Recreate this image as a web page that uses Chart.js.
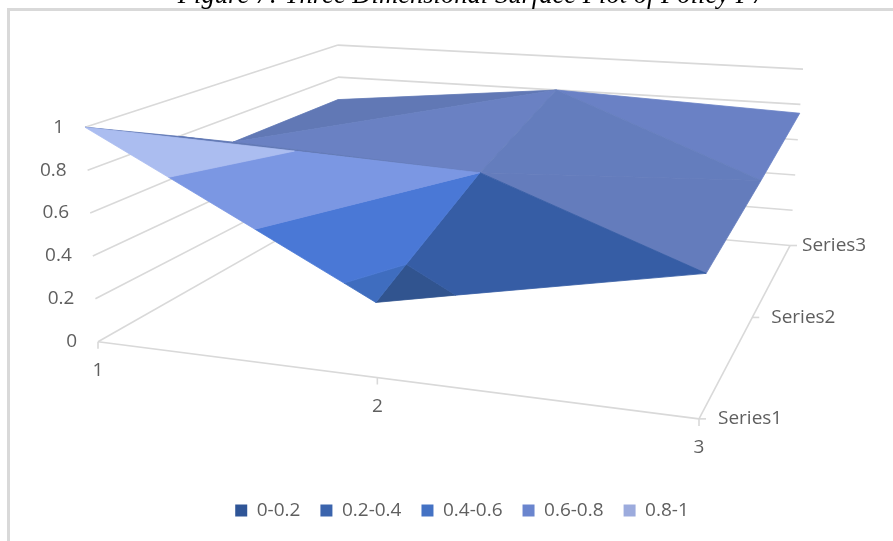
<!DOCTYPE html>
<html>
<head>
<meta charset="utf-8">
<title>Figure 7</title>
<script src="https://cdn.jsdelivr.net/npm/chart.js@4"></script>
<style>
    html, body { margin:0; padding:0; background:#fff; }
    #marco { position:absolute; left:7px; top:8px; width:886px; height:533px; border-left:3px solid #d9d9d9; border-top:3px solid #d9d9d9; box-sizing:border-box; }
    #lienzo { position:absolute; left:0; top:0; width:893px; height:541px; }
</style>
</head>
<body>
<div id="marco"></div>
<div id="lienzo"><canvas id="grafica" width="893" height="541"></canvas></div>
<script>
var titulo = 'Figure 7: Three Dimensional Surface Plot of Policy P7';
var xLabels = ['1', '2', '3'];
var seriesNames = ['Series1', 'Series2', 'Series3'];
var zTicks = [0, 0.2, 0.4, 0.6, 0.8, 1];
var bandNames = ['0-0.2', '0.2-0.4', '0.4-0.6', '0.6-0.8', '0.8-1'];
var bandEdges = [0, 0.2, 0.4, 0.6, 0.8, 1];
var series1 = [1, 0.33, 0.6];
var series2 = [0.66, 0.6, 0.67];
var series3 = [0.66, 0.8, 0.75];

var legendColors = ['#2F5597', '#3B64AD', '#4472C4', '#6A85CE', '#9CABDD'];
var GRID = '#d9d9d9';
var TEXT = '#5f5f5f';
var FONT = '"Open Sans"';
var PLOT_LEFT = 31;
var PLOT_BOTTOM = 480;

// esquinas de la caja 3D en pantalla: (1,S1) (3,S1) (3,S3) (1,S3)
var floorBox = [[98, 341], [699, 418], [790, 245], [338, 205]];
var topBox = [[85, 127], [711, 176], [803, 69], [338, 45]];

var valores = [series1, series2, series3];

function homografia(q) {
    var dx1 = q[1][0] - q[2][0], dx2 = q[3][0] - q[2][0], dx3 = q[0][0] - q[1][0] + q[2][0] - q[3][0];
    var dy1 = q[1][1] - q[2][1], dy2 = q[3][1] - q[2][1], dy3 = q[0][1] - q[1][1] + q[2][1] - q[3][1];
    var den = dx1 * dy2 - dx2 * dy1;
    var g = (dx3 * dy2 - dx2 * dy3) / den;
    var h = (dx1 * dy3 - dx3 * dy1) / den;
    var a = q[1][0] - q[0][0] + g * q[1][0], b = q[3][0] - q[0][0] + h * q[3][0], c = q[0][0];
    var d = q[1][1] - q[0][1] + g * q[1][1], e = q[3][1] - q[0][1] + h * q[3][1], f = q[0][1];
    return function (u, v) {
        var w = g * u + h * v + 1;
        return [(a * u + b * v + c) / w, (d * u + e * v + f) / w];
    };
}
var enPiso = homografia(floorBox);
var enTecho = homografia(topBox);

// col y fila van de 0 a 2, z de 0 a 1
function proyectar(col, fila, z) {
    var p = enPiso(col / 2, fila / 2);
    var t = enTecho(col / 2, fila / 2);
    return { x: p[0] + (t[0] - p[0]) * z, y: p[1] + (t[1] - p[1]) * z };
}

// caras de la superficie, de atras hacia adelante. Cada una con su tono por banda
function tono(c) { return [c, c, c, c, c]; }
var caras = [
    { v: [[0, 1], [1, 2], [0, 2]], c: tono('#6178B5') },
    { v: [[0, 1], [1, 1], [1, 2]], c: tono('#6A81C3') },
    { v: [[1, 2], [2, 1], [2, 2]], c: tono('#6A81C5') },
    { v: [[1, 1], [2, 1], [1, 2]], c: tono('#647DBD') },
    { v: [[1, 1], [2, 0], [2, 1]], c: tono('#647CBC') },
    { v: [[1, 0], [2, 0], [1, 1]], c: ['#31548F', '#31548F', '#365DA5', '#647CBC', '#647CBC'] },
    { v: [[0, 0], [1, 1], [0, 1]], c: tono('#6178B5') },
    { v: [[0, 0], [1, 0], [1, 1]], c: ['#3F6DBF', '#3F6DBF', '#4A78D6', '#7B97E3', '#ABBDF0'] }
];

function recortar(poli, limite, arriba) {
    var sale = [];
    for (var i = 0; i < poli.length; i++) {
        var a = poli[i], b = poli[(i + 1) % poli.length];
        var da = arriba ? a[2] - limite : limite - a[2];
        var db = arriba ? b[2] - limite : limite - b[2];
        if (da >= 0) sale.push(a);
        if ((da > 0 && db < 0) || (da < 0 && db > 0)) {
            var t = da / (da - db);
            sale.push([a[0] + (b[0] - a[0]) * t, a[1] + (b[1] - a[1]) * t, limite]);
        }
    }
    return sale;
}

function area(pts) {
    var s = 0;
    for (var i = 0; i < pts.length; i++) {
        var j = (i + 1) % pts.length;
        s += pts[i].x * pts[j].y - pts[j].x * pts[i].y;
    }
    return Math.abs(s) / 2;
}

function linea(puntos, ancho) {
    return { data: puntos, showLine: true, fill: false, borderColor: GRID, borderWidth: ancho || 1.6, pointRadius: 0, tension: 0 };
}

var capas = [];
// paredes
zTicks.forEach(function (z) {
    capas.push(linea([proyectar(0, 0, z), proyectar(0, 2, z)]));
    capas.push(linea([proyectar(0, 2, z), proyectar(2, 2, z)]));
});
// piso y marcas de los ejes
capas.push(linea([proyectar(0, 0, 0), proyectar(2, 0, 0)]));
capas.push(linea([proyectar(2, 0, 0), proyectar(2, 2, 0)]));
xLabels.forEach(function (n, i) {
    var p = proyectar(i, 0, 0);
    capas.push(linea([p, { x: p.x, y: p.y + 7 }]));
});
seriesNames.forEach(function (n, i) {
    var p = proyectar(2, i, 0);
    capas.push(linea([p, { x: p.x + 7, y: p.y }]));
});
// superficie por bandas
caras.forEach(function (cara) {
    var base = cara.v.map(function (k) { return [k[0], k[1], valores[k[1]][k[0]]]; });
    bandNames.forEach(function (nombre, b) {
        var poli = recortar(recortar(base, bandEdges[b], true), bandEdges[b + 1], false);
        if (poli.length < 3) return;
        var pts = poli.map(function (k) { return proyectar(k[0], k[1], k[2]); });
        if (area(pts) < 0.5) return;
        pts.push(pts[0]);
        capas.push({
            data: pts, showLine: true, fill: 'shape', backgroundColor: cara.c[b],
            borderColor: cara.c[b], borderWidth: 0.8, pointRadius: 0, tension: 0
        });
    });
});
capas.reverse(); // chart.js pinta el primero encima

var seriesDx = [19, 19, 12];
var textos = {
    id: 'textos',
    afterDraw: function (chart) {
        var ctx = chart.ctx, sx = chart.scales.x, sy = chart.scales.y;
        ctx.save();
        ctx.fillStyle = TEXT;
        ctx.textBaseline = 'middle';
        ctx.font = '19px ' + FONT;
        ctx.textAlign = 'right';
        zTicks.forEach(function (z) {
            var p = proyectar(0, 0, z);
            ctx.fillText(String(z), sx.getPixelForValue(p.x) - 21, sy.getPixelForValue(p.y));
        });
        ctx.textAlign = 'center';
        xLabels.forEach(function (n, i) {
            var p = proyectar(i, 0, 0);
            ctx.fillText(n, sx.getPixelForValue(p.x), sy.getPixelForValue(p.y) + 29);
        });
        ctx.textAlign = 'left';
        seriesNames.forEach(function (n, i) {
            var p = proyectar(2, i, 0);
            ctx.fillText(n, sx.getPixelForValue(p.x) + seriesDx[i], sy.getPixelForValue(p.y));
        });
        ctx.fillStyle = '#000';
        ctx.textBaseline = 'alphabetic';
        ctx.textAlign = 'center';
        ctx.font = 'italic 26.6px "Liberation Serif"';
        ctx.fillText(titulo, 471.5, 3);
        ctx.restore();
    }
};

new Chart(document.getElementById('grafica').getContext('2d'), {
    type: 'scatter',
    data: { datasets: capas },
    plugins: [textos],
    options: {
        responsive: false,
        animation: false,
        events: [],
        layout: { padding: { left: PLOT_LEFT, bottom: 11 } },
        scales: {
            x: { type: 'linear', min: PLOT_LEFT, max: 893, display: false },
            y: { type: 'linear', min: 0, max: PLOT_BOTTOM, reverse: true, display: false }
        },
        plugins: {
            tooltip: { enabled: false },
            title: { display: false },
            legend: {
                position: 'bottom',
                labels: {
                    boxWidth: 12, boxHeight: 12, padding: 20, color: TEXT,
                    font: { family: FONT, size: 19 },
                    generateLabels: function () {
                        return bandNames.map(function (n, i) {
                            return { text: n, fillStyle: legendColors[i], strokeStyle: legendColors[i], lineWidth: 0, hidden: false, fontColor: TEXT };
                        });
                    }
                }
            }
        }
    }
});
</script>
</body>
</html>
